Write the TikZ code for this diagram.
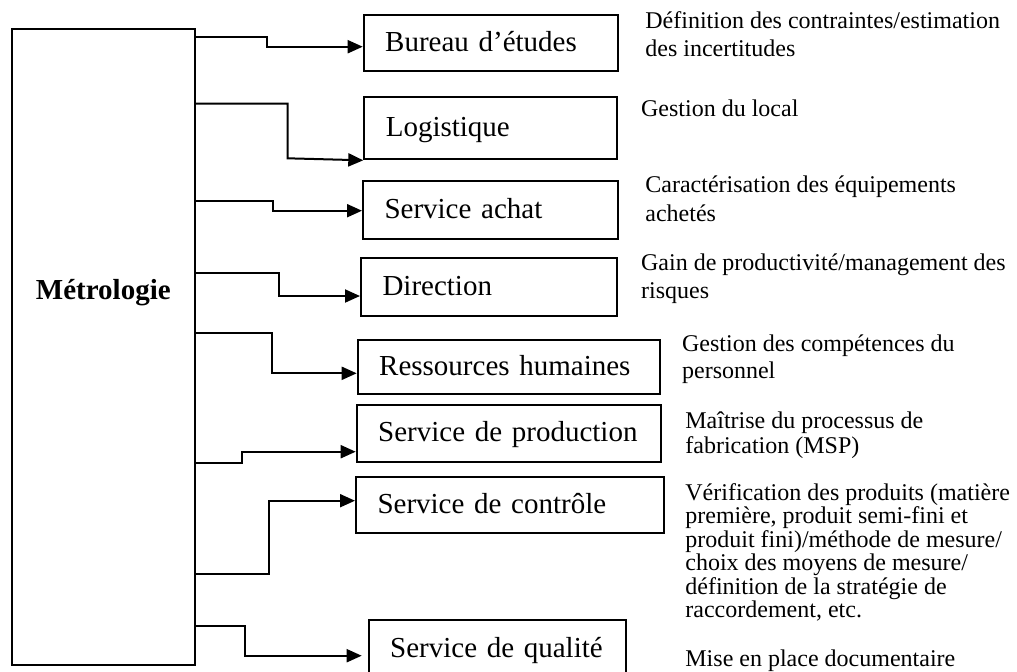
\documentclass[tikz,border=0pt]{standalone}
\usepackage{fontspec}
\setmainfont{Liberation Serif}
\usetikzlibrary{arrows.meta, positioning}

\begin{document}
\begin{tikzpicture}[
  x=0.5pt, y=-0.5pt,
  >={Triangle[length=7.5pt, width=6.5pt]},
  box/.style={draw, line width=1pt, anchor=north west, align=left,
    inner xsep=10.75pt, inner ysep=0pt, text height=11pt, text depth=2.4pt,
    font=\fontsize{14.5}{17}\selectfont},
  link/.style={->, line width=1pt},
  desc/.style={anchor=base west, align=left, inner sep=0pt,
    font=\fontsize{12}{#1}\selectfont},
  desc/.default=14pt,
]
\useasboundingbox (0,0) rectangle (1017,671);

% --- central block ---
\node[draw, line width=1pt, anchor=north west, minimum width=91.65pt,
  minimum height=317.85pt, text height=10pt, text depth=58pt,
  font=\fontsize{14.5}{17}\selectfont\bfseries] (metro) at (10.7,28.3) {Métrologie};

% --- services ---
\node[box, text width=105.5pt, minimum height=28pt] (bureau) at (362.7,14) {Bureau d’études};
\node[box, text width=104.7pt, minimum height=31.15pt] (logist) at (363.3,96) {Logistique};
\node[box, text width=106.15pt, minimum height=29.15pt] (achat) at (362,180) {Service achat};
\node[box, text width=106.5pt, minimum height=28.85pt] (direct) at (360,257.3) {Direction};
\node[box, text width=129.8pt, minimum height=27.15pt] (rh) at (356.7,339) {Ressources humaines};
\node[box, text width=130.65pt, minimum height=28.5pt] (prod) at (355.7,403.5) {Service de production};
\node[box, text width=132.5pt, minimum height=27.85pt] (ctrl) at (355,476) {Service de contrôle};
\node[box, text width=107.15pt, minimum height=29pt] (qual) at (367.7,619.3) {Service de qualité};

% --- links ---
\draw[link] (metro.east |- 0,37.3) -| (266.7,46.7) -- (bureau.west |- 0,46.7);
\draw[link] (metro.east |- 0,103.5) -| (287.7,158.3) -- (logist.south west);
\draw[link] (metro.east |- 0,200.7) -| (272.7,210.7) -- (achat.west |- 0,210.7);
\draw[link] (metro.east |- 0,272.7) -| (279,296) -- (direct.west |- 0,296);
\draw[link] (metro.east |- 0,333.3) -| (271.7,373.3) -- (rh.west |- 0,373.3);
\draw[link] (metro.east |- 0,462.7) -| (241.7,451.7) -- (prod.west |- 0,451.7);
\draw[link] (metro.east |- 0,574.3) -| (269,500.7) -- (ctrl.west |- 0,500.7);
\draw[link, shorten >=3pt] (metro.east |- 0,626) -| (245,655.7) -- (qual.west |- 0,655.7);

% --- roles (placed at the baseline of the last line) ---
\node[desc=14.15pt] (bureautxt) at (645,56.6) {Définition des contraintes/estimation\\des incertitudes};
\node[desc] (logisttxt) at (640.7,116) {Gestion du local};
\node[desc=14.15pt] (achattxt) at (645,221) {Caractérisation des équipements\\achetés};
\node[desc=13.85pt] (directtxt) at (640.7,298.4) {Gain de productivité/management des\\risques};
\node[desc=13.35pt] (rhtxt) at (681.7,378.4) {Gestion des compétences du\\personnel};
\node[desc=12.5pt] (prodtxt) at (685,453.3) {Maîtrise du processus de\\fabrication (MSP)};
\node[desc=11.75pt] (ctrltxt) at (685,617.5) {Vérification des produits (matière\\première, produit semi-fini et\\produit fini)/méthode de mesure/\\choix des moyens de mesure/\\définition de la stratégie de\\raccordement, etc.};
\node[desc] (qualtxt) at (685,666.7) {Mise en place documentaire};

\end{tikzpicture}
\end{document}
